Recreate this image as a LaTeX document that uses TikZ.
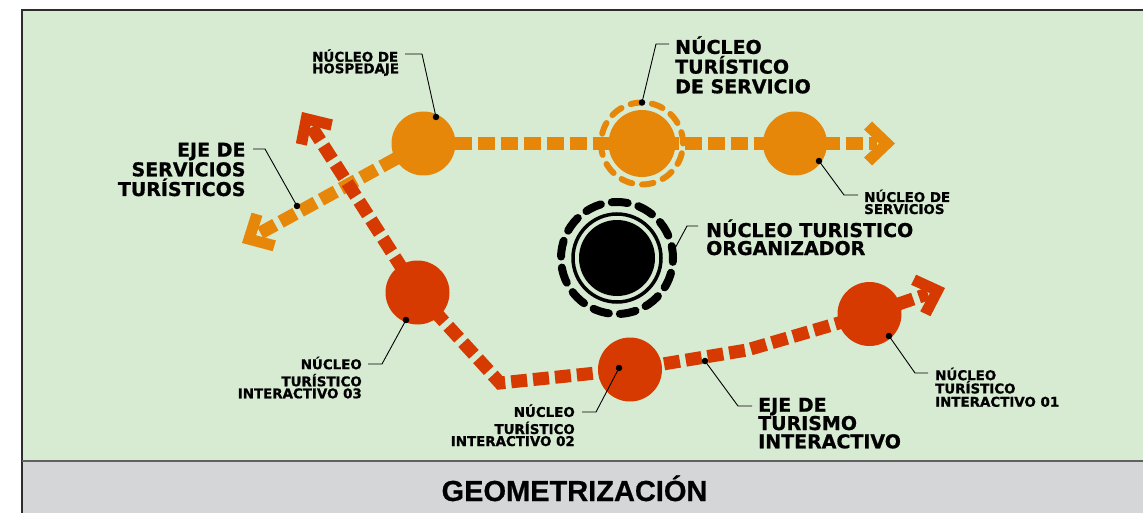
\documentclass[tikz,border=0pt]{standalone}
\usepackage{fontspec}
\newfontfamily\labfont{DejaVu Sans}[BoldFeatures={FakeBold=0.9}]
\newfontfamily\titlefont{Liberation Sans}[BoldFeatures={FakeBold=0.6}]
\usetikzlibrary{calc}
\definecolor{bggreen}{RGB}{215,235,211}
\definecolor{bandgray}{RGB}{213,214,216}
\definecolor{framecol}{RGB}{45,45,45}
\definecolor{nor}{RGB}{230,135,10}
\definecolor{nred}{RGB}{214,58,0}
\newcommand\chevron[3]{%
  \fill[#3] (#1) -- ($(#1)!31.8pt!43.7:(#2)$) -- ($(#1)!34pt!24.3:(#2)$)
    -- ($(#1)!16pt!(#2)$) -- ($(#1)!34pt!-24.3:(#2)$) -- ($(#1)!31.8pt!-43.7:(#2)$) -- cycle;}
\tikzset{
  oline/.style={draw=nor, line width=13pt, dash pattern=on 17pt off 6pt},
  rline/.style={draw=nred, line width=13pt, dash pattern=on 16pt off 6pt, line join=miter},
  leader/.style={draw=black, line width=0.9pt},
  ldot/.style={circle, fill=black, minimum size=6.5pt, inner sep=0},
  disk/.style={circle, minimum size=64pt, inner sep=0},
  big/.style={font=\labfont\bfseries\fontsize{19}{19.7}\selectfont, inner sep=0},
  small/.style={font=\labfont\bfseries\fontsize{13.4}{12}\selectfont, inner sep=0},
}
\begin{document}
\begin{tikzpicture}[x=1pt,y=-1pt]
\useasboundingbox (0,0) rectangle (1143,513);
\fill[white] (0,0) rectangle (1143,513);
\fill[bggreen] (22,10) rectangle (1143,461);
\fill[bandgray] (22,461) rectangle (1143,513);
\draw[framecol, line width=2pt] (22,513) -- (22,10) -- (1143,10);
\draw[framecol!75, line width=2pt] (22,461) -- (1143,461);

% key points
\coordinate (H) at (423.5,143.5);
\coordinate (SV) at (642,143.5);
\coordinate (SS) at (795,143.5);
\coordinate (TR) at (895,143.5);
\coordinate (TL) at (242,243);
\coordinate (TA) at (302,112);
\coordinate (I3) at (417.5,292.5);
\coordinate (K) at (500,383);
\coordinate (I2) at (630,369.5);
\coordinate (B) at (747,350);
\coordinate (I1) at (869.5,314);
\coordinate (TB) at (945,288);
\coordinate (O) at (617,258);

% orange axis
\draw[oline] ($(H)!31pt!(TL)$) -- ($(TL)!18pt!(H)$);
\draw[oline] ($(H)!31pt!(TR)$) -- ($(TR)!18pt!(SS)$);
\chevron{TL}{H}{nor}
\chevron{TR}{SS}{nor}

% red axis
\draw[rline] ($(TA)!18pt!(I3)$) -- (I3) -- (K) -- (I2) -- (B) -- (I1) -- ($(TB)!18pt!(I1)$);
\chevron{TA}{I3}{nred}
\chevron{TB}{I1}{nred}

% orange nodes
\node[disk, fill=nor] (hosp) at (H) {};
\node[disk, fill=nor, minimum size=67pt] (serv) at (SV) {};
\draw[nor, line width=6pt, line cap=round, dash pattern=on 11.5pt off 9.97pt] (serv.center) circle[radius=41pt];
\node[disk, fill=nor] (servs) at (SS) {};

% red nodes
\node[disk, fill=nred] (it3) at (I3) {};
\node[disk, fill=nred] (it2) at (I2) {};
\node[disk, fill=nred] (it1) at (I1) {};

% organizer
\node[circle, fill=black, minimum size=76pt, inner sep=0] (org) at (O) {};
\draw[black, line width=3.5pt] (org.center) circle[radius=44pt];
\draw[black, line width=8pt, line cap=round, dash pattern=on 16pt off 11.07pt, dash phase=4pt] (org.center) circle[radius=56pt];

% leader points
\coordinate (h1) at (405,54);   \coordinate (h2) at (422,54);   \node[ldot] (d1) at (436,117) {};
\coordinate (s1) at (669,44);   \coordinate (s2) at (656,44);   \node[ldot] (d2) at (642,102.5) {};
\coordinate (v1) at (858,195);  \coordinate (v2) at (844,195);  \node[ldot] (d3) at (819,161) {};
\coordinate (g1) at (698,226);  \coordinate (g2) at (687,226);  \coordinate (g3) at (673,252);
\coordinate (e1) at (253,149);  \coordinate (e2) at (265,149);  \node[ldot] (d5) at (297,206) {};
\coordinate (a1) at (368,364);  \coordinate (a2) at (382,364);  \node[ldot] (d6) at (406,320) {};
\coordinate (b1) at (582,412);  \coordinate (b2) at (596,412);  \node[ldot] (d7) at (619,368) {};
\coordinate (t1) at (752,406);  \coordinate (t2) at (738,406);  \node[ldot] (d8) at (705,361) {};
\coordinate (c1) at (928,373);  \coordinate (c2) at (915,373);  \node[ldot] (d9) at (889,336) {};

\draw[leader] (h1) -- (h2) -- (d1.center);
\draw[leader] (s1) -- (s2) -- (d2.center);
\draw[leader] (v1) -- (v2) -- (d3.center);
\draw[leader] (g1) -- (g2) -- (g3);
\draw[leader] (e1) -- (e2) -- (d5.center);
\draw[leader] (a1) -- (a2) -- (d6.center);
\draw[leader] (b1) -- (b2) -- (d7.center);
\draw[leader] (t1) -- (t2) -- (d8.center);
\draw[leader] (c1) -- (c2) -- (d9.center);

% labels (anchor base = baseline of the last line)
\node[small, align=left, anchor=base west, font=\labfont\bfseries\fontsize{13.4}{11.6}\selectfont] (lhosp) at (312,73.3) {NÚCLEO DE\\HOSPEDAJE};
\node[big, align=left, anchor=base west] (lserv) at (675,93.3) {NÚCLEO\\TURÍSTICO\\DE SERVICIO};
\node[small, align=left, anchor=base west] (lservs) at (864,214) {NÚCLEO DE\\SERVICIOS};
\node[big, align=left, anchor=base west, font=\labfont\bfseries\fontsize{19}{18}\selectfont] (lorg) at (706,255) {NÚCLEO TURISTICO\\ORGANIZADOR};
\node[big, align=right, anchor=base east] (leje1) at (245.7,196) {EJE DE\\SERVICIOS\\TURÍSTICOS};
\node[small, align=right, anchor=base east] (lit3) at (362,398.3) {NÚCLEO\\[3.5pt]TURÍSTICO\\INTERACTIVO 03};
\node[small, align=right, anchor=base east] (lit2) at (575,446) {NÚCLEO\\[3.5pt]TURÍSTICO\\INTERACTIVO 02};
\node[big, align=left, anchor=base west, font=\labfont\bfseries\fontsize{19}{18.3}\selectfont] (leje2) at (758,448.3) {EJE DE\\TURISMO\\INTERACTIVO};
\node[small, align=left, anchor=base west, font=\labfont\bfseries\fontsize{13.4}{13.3}\selectfont] (lit1) at (935,406.7) {NÚCLEO\\TURÍSTICO\\INTERACTIVO 01};

\node[font=\titlefont\bfseries\fontsize{29}{29}\selectfont, anchor=base, inner sep=0] (title) at (574.5,501) {GEOMETRIZACIÓN};
\end{tikzpicture}
\end{document}
